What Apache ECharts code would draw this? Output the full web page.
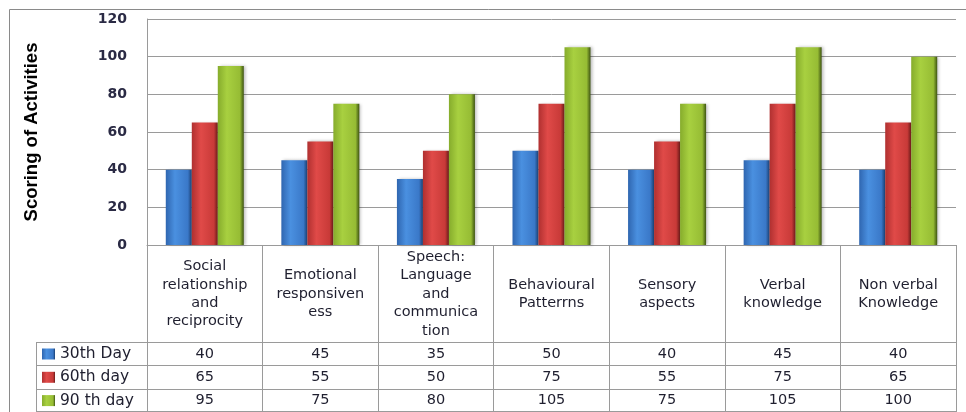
<!DOCTYPE html>
<html>
<head>
<meta charset="utf-8">
<script src="https://cdn.jsdelivr.net/npm/echarts@6/dist/echarts.min.js"></script>
<style>
  html, body { margin: 0; padding: 0; background: #fff; }
  #chart { width: 966px; height: 412px; }
</style>
</head>
<body>
<div id="chart"></div>
<script>
var myChart = echarts.init(document.getElementById('chart'));

// data
var categories = [
  'Social\nrelationship\nand\nreciprocity',
  'Emotional\nresponsiven\ness',
  'Speech:\nLanguage\nand\ncommunica\ntion',
  'Behavioural\nPatterrns',
  'Sensory\naspects',
  'Verbal\nknowledge',
  'Non verbal\nKnowledge'
];
var seriesNames = ['30th Day', '60th day', '90 th day'];
var day30 = [40, 45, 35, 50, 40, 45, 40];
var day60 = [65, 55, 50, 75, 55, 75, 65];
var day90 = [95, 75, 80, 105, 75, 105, 100];
var yTicks = [0, 20, 40, 60, 80, 100, 120];

var rows = [day30, day60, day90];
var textColor = '#1f1f2f';
var lineColor = '#9a9a9a';
var tableFont = 'DejaVu Sans';

function barColor(dark, light, base, edge) {
  return new echarts.graphic.LinearGradient(0, 0, 1, 0, [
    { offset: 0, color: dark },
    { offset: 0.35, color: light },
    { offset: 0.85, color: base },
    { offset: 1, color: edge }
  ]);
}
var colors = [
  barColor('#2f66b0', '#4a90e0', '#3a78c8', '#1a3f72'),
  barColor('#b03030', '#e04a48', '#c83a38', '#6a1a18'),
  barColor('#86ac2c', '#a8d040', '#96bc34', '#3e5412')
];

// x axes: header labels, plus one axis per table row
var xAxes = [{
  type: 'category',
  data: categories,
  position: 'bottom',
  axisLine: { show: true, lineStyle: { color: lineColor } },
  axisTick: { show: true, length: 167, interval: 0, lineStyle: { color: lineColor } },
  axisLabel: {
    interval: 0, margin: 49, verticalAlign: 'middle',
    color: textColor, fontFamily: tableFont, fontSize: 14.5, lineHeight: 18.4
  }
}];
var rowCenters = [109, 132, 155];
rows.forEach(function (vals, r) {
  xAxes.push({
    type: 'category',
    data: categories,
    position: 'bottom',
    axisLine: { show: false },
    axisTick: { show: false },
    axisLabel: {
      interval: 0, margin: rowCenters[r], verticalAlign: 'middle',
      color: textColor, fontFamily: tableFont, fontSize: 14.5,
      formatter: function (v, i) { return String(vals[i]); }
    }
  });
});

var series = rows.map(function (vals, i) {
  return {
    name: seriesNames[i],
    type: 'bar',
    xAxisIndex: 0,
    data: vals,
    barWidth: 26,
    barGap: '0%',
    itemStyle: {
      color: colors[i],
      shadowColor: 'rgba(0,0,0,0.25)',
      shadowBlur: 3,
      shadowOffsetX: 2
    }
  };
});

// one legend per table row, in the left column
var legends = seriesNames.map(function (name, i) {
  return {
    data: [name],
    left: 42,
    top: 346 + i * 23.3,
    icon: 'rect',
    itemWidth: 13,
    itemHeight: 11,
    padding: 0,
    selectedMode: false,
    textStyle: { color: textColor, fontFamily: tableFont, fontSize: 15.5 }
  };
});

// table rule lines
var tableLines = [];
[342.5, 365.5, 389.5, 411.5].forEach(function (y) {
  tableLines.push({ type: 'line', shape: { x1: 36, y1: y, x2: 956, y2: y }, style: { stroke: lineColor, lineWidth: 1 } });
});
tableLines.push({ type: 'line', shape: { x1: 36.5, y1: 342, x2: 36.5, y2: 412 }, style: { stroke: lineColor, lineWidth: 1 } });
tableLines.push({ type: 'rect', shape: { x: 9.5, y: 9.5, width: 980, height: 420 }, style: { fill: null, stroke: '#8a8a8a', lineWidth: 1 } });

option = {
  animation: false,
  backgroundColor: '#fff',
  grid: { left: 147, right: 10, top: 19, bottom: 167 },
  legend: legends,
  xAxis: xAxes,
  yAxis: {
    type: 'value',
    min: 0,
    max: 120,
    interval: 20,
    name: 'Scoring of Activities',
    nameLocation: 'middle',
    nameGap: 106,
    nameRotate: 90,
    nameTextStyle: {
      fontFamily: 'Liberation Sans, sans-serif',
      fontWeight: 'bold', fontSize: 18.5, color: '#000'
    },
    axisLine: { show: true, lineStyle: { color: lineColor } },
    axisTick: { show: false },
    splitLine: { lineStyle: { color: lineColor } },
    axisLabel: {
      margin: 20, color: '#2a2a44', fontFamily: tableFont, fontWeight: 'bold', fontSize: 14,
      formatter: function (v) { return yTicks.indexOf(v) >= 0 ? String(v) : ''; }
    }
  },
  graphic: tableLines,
  series: series
};

myChart.setOption(option);
</script>
</body>
</html>
